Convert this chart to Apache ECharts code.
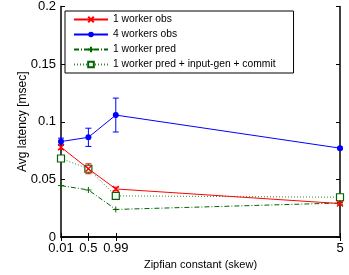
<!DOCTYPE html>
<html><head><meta charset="utf-8">
<script src="https://cdn.jsdelivr.net/npm/echarts@6/dist/echarts.min.js"></script>
<style>html,body{margin:0;padding:0;background:#fff}#c{width:349px;height:275px}</style>
</head><body><div id="c"></div>
<script>
const skew = [0.01, 0.5, 0.99, 5];
const xTicks = [0.01, 0.5, 0.99, 5];
const obs1 = [0.0779, 0.0592, 0.0417, 0.0290];
const obs1Err = [0.002, 0.0043, 0.0015, 0.001];
const obs4 = [0.0828, 0.0865, 0.1058, 0.0771];
const obs4Err = [0.003, 0.0079, 0.0147, 0.0008];
const pred1 = [0.0446, 0.0408, 0.0239, 0.0295];
const predFull = [0.0681, 0.0592, 0.0357, 0.0345];
const names = ['1 worker obs', '4 workers obs', '1 worker pred', '1 worker pred + input-gen + commit'];

const F = 'Liberation Sans, Arial, sans-serif';
function pairs(v){ return skew.map((x,i)=>[x, v[i]]); }
function errData(v, e){ return skew.map((x,i)=>[x, v[i]-e[i], v[i]+e[i]]); }
function errSeries(v, e, color){
  return {
    type:'custom', silent:true, z:3,
    renderItem:function(params, api){
      const x = api.value(0);
      const lo = api.coord([x, api.value(1)]);
      const hi = api.coord([x, api.value(2)]);
      const w = 3;
      const st = {stroke:color, lineWidth:1};
      return {type:'group', children:[
        {type:'line', shape:{x1:lo[0],y1:lo[1],x2:hi[0],y2:hi[1]}, style:st},
        {type:'line', shape:{x1:lo[0]-w,y1:lo[1],x2:lo[0]+w,y2:lo[1]}, style:st},
        {type:'line', shape:{x1:hi[0]-w,y1:hi[1],x2:hi[0]+w,y2:hi[1]}, style:st}
      ]};
    },
    data: errData(v, e)
  };
}
const chart = echarts.init(document.getElementById('c'), null, {renderer:'canvas'});
chart.setOption({
  animation:false,
  grid:{left:61, right:9, top:6, bottom:37},
  legend:{
    orient:'vertical', left:65, top:11,
    padding:[1,18,1,8], itemGap:0, itemWidth:34, itemHeight:7,
    borderColor:'#000', borderWidth:1, backgroundColor:'#fff',
    textStyle:{fontFamily:F, fontSize:10.3, color:'#000', lineHeight:15},
    data: names
  },
  xAxis:[{
    type:'value', min:0.01, max:5,
    name:'Zipfian constant (skew)', nameLocation:'middle', nameGap:22, nameMoveOverlap:false,
    nameTextStyle:{fontFamily:F, fontSize:11, color:'#000'},
    axisLine:{lineStyle:{color:'#000', width:1.5}},
    axisTick:{inside:true, length:4, customValues:xTicks, lineStyle:{color:'#000'}},
    axisLabel:{customValues:xTicks, fontFamily:F, fontSize:13, color:'#000', margin:5,
      formatter:function(v){ return String(v); }},
    splitLine:{show:false}
  },{
    type:'value', min:0.01, max:5, position:'top',
    axisLine:{show:true, lineStyle:{color:'#000', width:1.5}},
    axisTick:{inside:true, length:4, customValues:xTicks, lineStyle:{color:'#000'}},
    axisLabel:{show:false}, splitLine:{show:false}
  }],
  yAxis:[{
    type:'value', min:0, max:0.2, interval:0.05,
    name:'Avg latency [msec]', nameLocation:'middle', nameGap:32, nameRotate:90, nameMoveOverlap:false,
    nameTextStyle:{fontFamily:F, fontSize:12, color:'#000'},
    axisLine:{show:true, lineStyle:{color:'#000', width:1.5}},
    axisTick:{inside:true, length:4, lineStyle:{color:'#000'}},
    axisLabel:{fontFamily:F, fontSize:13, color:'#000', margin:5},
    splitLine:{show:false}
  },{
    type:'value', min:0, max:0.2, interval:0.05, position:'right',
    axisLine:{show:true, lineStyle:{color:'#000', width:1.5}},
    axisTick:{inside:true, length:4, lineStyle:{color:'#000'}},
    axisLabel:{show:false}, splitLine:{show:false}
  }],
  series:[
    {name:names[0], type:'line', data:pairs(obs1), z:5,
     symbol:'path://M0,0L10,10M10,0L0,10', symbolSize:6,
     lineStyle:{color:'#ff0000', width:1},
     itemStyle:{color:'rgba(0,0,0,0)', borderColor:'#ff0000', borderWidth:1.3}},
    {name:names[1], type:'line', data:pairs(obs4), z:5,
     symbol:'circle', symbolSize:6,
     lineStyle:{color:'#0000ff', width:1},
     itemStyle:{color:'#0000ff'}},
    {name:names[2], type:'line', data:pairs(pred1), z:4,
     symbol:'path://M5,0L5,10M0,5L10,5', symbolSize:6,
     lineStyle:{color:'#006400', width:1, type:[5,2,1,2]},
     itemStyle:{color:'rgba(0,0,0,0)', borderColor:'#006400', borderWidth:1}},
    {name:names[3], type:'line', data:pairs(predFull), z:4,
     symbol:'rect', symbolSize:7,
     lineStyle:{color:'#2e8b2e', width:1, type:[1,2]},
     itemStyle:{color:'#fff', borderColor:'#006400', borderWidth:1.2}},
    errSeries(obs1, obs1Err, '#ff0000'),
    errSeries(obs4, obs4Err, '#0000ff')
  ]
});
</script></body></html>
